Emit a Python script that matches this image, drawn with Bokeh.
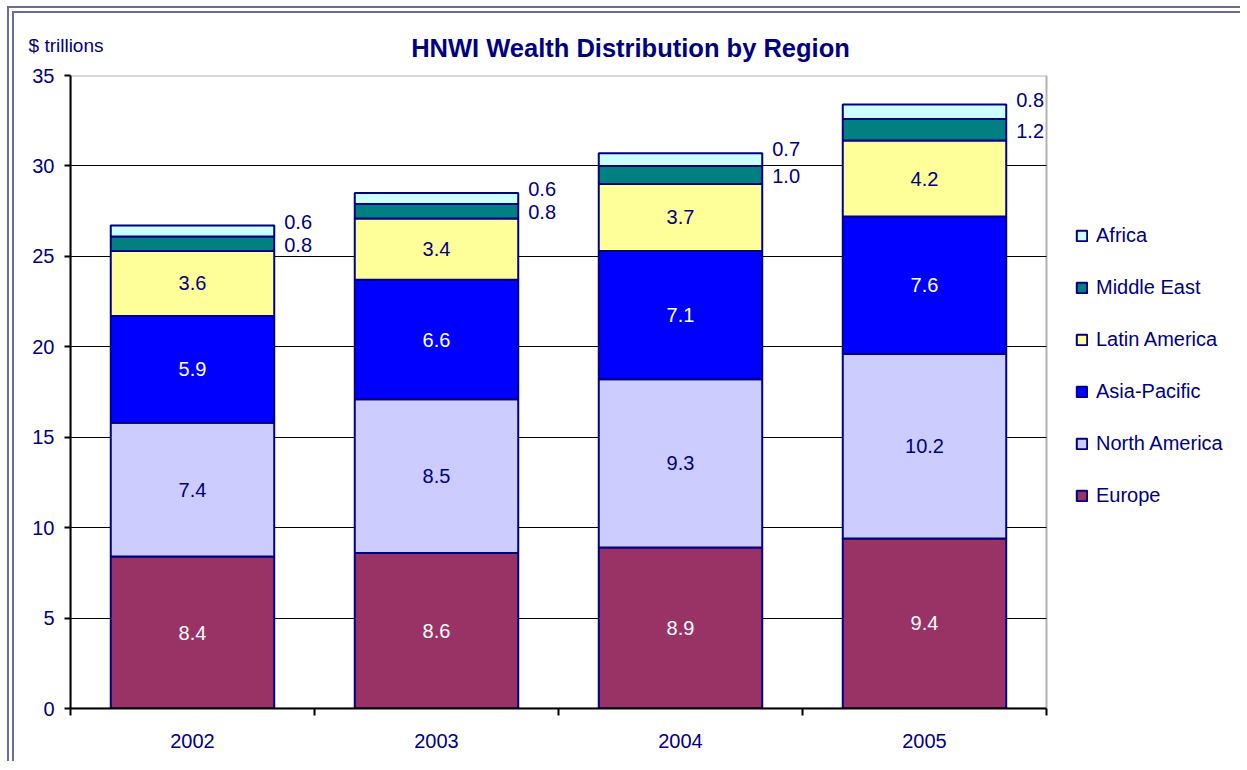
from bokeh.plotting import figure
from bokeh.models import (ColumnDataSource, Range1d, FixedTicker, Legend, LegendItem, Label, BoxAnnotation)
from bokeh.core.properties import value
from bokeh.embed import file_html
from bokeh.resources import INLINE

# ---------------- data ----------------
years = ["2002", "2003", "2004", "2005"]
regions = ["Europe", "North America", "Asia-Pacific", "Latin America", "Middle East", "Africa"]
europe = [8.4, 8.6, 8.9, 9.4]
north_america = [7.4, 8.5, 9.3, 10.2]
asia_pacific = [5.9, 6.6, 7.1, 7.6]
latin_america = [3.6, 3.4, 3.7, 4.2]
middle_east = [0.8, 0.8, 1.0, 1.2]
africa = [0.6, 0.6, 0.7, 0.8]
y_ticks = [0, 5, 10, 15, 20, 25, 30, 35]
title_text = "HNWI Wealth Distribution by Region"
unit_text = "$ trillions"

# ---------------- styles / layout ----------------
series = [europe, north_america, asia_pacific, latin_america, middle_east, africa]
colors = ["#993366", "#CCCCFF", "#0000FF", "#FFFF99", "#008080", "#CCFFFF"]
label_colors = ["white", "#000080", "white", "#000080"]
NAVY = "#000080"
FONT = "Liberation Sans"
W, H = 1233, 755
LEFT, TOP, BOTTOM = 56, 62, 60
N = len(years)
PX_PER_CAT = 244.0
X_END = (W - LEFT) / PX_PER_CAT      # frame extends right to hold the legend

x = [i + 0.5 for i in range(N)]
data = dict(x=x)
for name, vals in zip(regions, series):
    data[name] = vals
source = ColumnDataSource(data)

p = figure(width=W, height=H, x_range=Range1d(0, X_END), y_range=Range1d(0, 35),
           output_backend="svg", toolbar_location=None,
           min_border_left=LEFT, min_border_top=TOP, min_border_right=0, min_border_bottom=BOTTOM)
p.styles = {"margin-left": "7px", "margin-top": "6px",
            "border-left": "7px double #6B6B9B", "border-top": "7px double #6B6B9B"}

# grid
p.xgrid.grid_line_color = None
p.ygrid.ticker = FixedTicker(ticks=y_ticks)
p.ygrid.grid_line_color = "black"
p.ygrid.grid_line_width = 1
p.outline_line_color = None
# keep the grid inside the plot area only (legend area stays white)
p.add_layout(BoxAnnotation(left=N, fill_color="white", fill_alpha=1, line_color=None,
                           level="underlay"))

renderers = p.vbar_stack(regions, x="x", width=0.67, source=source, color=colors,
                         line_color=NAVY, line_width=2)

base = [0.0] * N
for idx, vals in enumerate(series):
    mids = [b + v / 2 for b, v in zip(base, vals)]
    tops = [b + v for b, v in zip(base, vals)]
    txt = ["%.1f" % v for v in vals]
    if idx < 4:
        p.text(x=x, y=mids, text=txt, text_align="center", text_baseline="middle",
               text_color=label_colors[idx], text_font=value(FONT), text_font_size="20px")
    elif idx == 4:
        p.text(x=[xx + 0.335 for xx in x], y=mids, text=txt, text_align="left",
               text_baseline="middle", x_offset=10, y_offset=1,
               text_color=NAVY, text_font=value(FONT), text_font_size="20px")
    else:
        p.text(x=[xx + 0.335 for xx in x], y=tops, text=txt, text_align="left",
               text_baseline="middle", x_offset=10, y_offset=-4,
               text_color=NAVY, text_font=value(FONT), text_font_size="20px")
    base = tops

# plot-area border (top and right edges)
p.add_layout(BoxAnnotation(left=0, right=N, bottom=0, top=35, fill_alpha=0,
                           line_color="black", line_width=2))

p.yaxis.ticker = FixedTicker(ticks=y_ticks)
p.yaxis.axis_line_width = 2
p.yaxis.axis_line_color = "black"
p.yaxis.major_tick_line_width = 2
p.yaxis.major_tick_out = 6
p.yaxis.major_tick_in = 0
p.yaxis.minor_tick_line_color = None
p.yaxis.major_label_text_color = NAVY
p.yaxis.major_label_text_font = FONT
p.yaxis.major_label_text_font_size = "20px"
p.yaxis.major_label_standoff = 10

p.xaxis.bounds = (0, N)
p.xaxis.ticker = FixedTicker(ticks=x, minor_ticks=list(range(N + 1)))
p.xaxis.major_label_overrides = {xx: y for xx, y in zip(x, years)}
p.xaxis.axis_line_width = 2
p.xaxis.axis_line_color = "black"
p.xaxis.major_tick_line_color = None
p.xaxis.major_tick_out = 0
p.xaxis.major_tick_in = 0
p.xaxis.minor_tick_line_width = 2
p.xaxis.minor_tick_line_color = "black"
p.xaxis.minor_tick_out = 7
p.xaxis.minor_tick_in = 0
p.xaxis.major_label_text_color = NAVY
p.xaxis.major_label_text_font = FONT
p.xaxis.major_label_text_font_size = "20px"
p.xaxis.major_label_standoff = 18

# title and unit label, placed in the top panel
p.add_layout(Label(x=2.295, y=36.548, text=title_text, text_align="center", text_baseline="middle",
                   text_font=FONT, text_font_size="25.5px", text_font_style="bold", text_color=NAVY),
             "above")
p.add_layout(Label(x=-0.172, y=36.66, text=unit_text, text_align="left", text_baseline="middle",
                   text_font=FONT, text_font_size="19px", text_color=NAVY),
             "above")

items = [LegendItem(label=regions[i], renderers=[renderers[i]]) for i in range(len(regions) - 1, -1, -1)]
legend = Legend(items=items, location=(1005, 201), padding=0, margin=0,
                glyph_width=13, glyph_height=13, label_height=24, spacing=28, label_standoff=8,
                label_text_font=FONT, label_text_font_size="20px", label_text_color=NAVY,
                label_text_baseline="middle",
                border_line_alpha=0, background_fill_alpha=0)
p.add_layout(legend, "center")

open("out.html", "w").write(file_html(p, INLINE))
